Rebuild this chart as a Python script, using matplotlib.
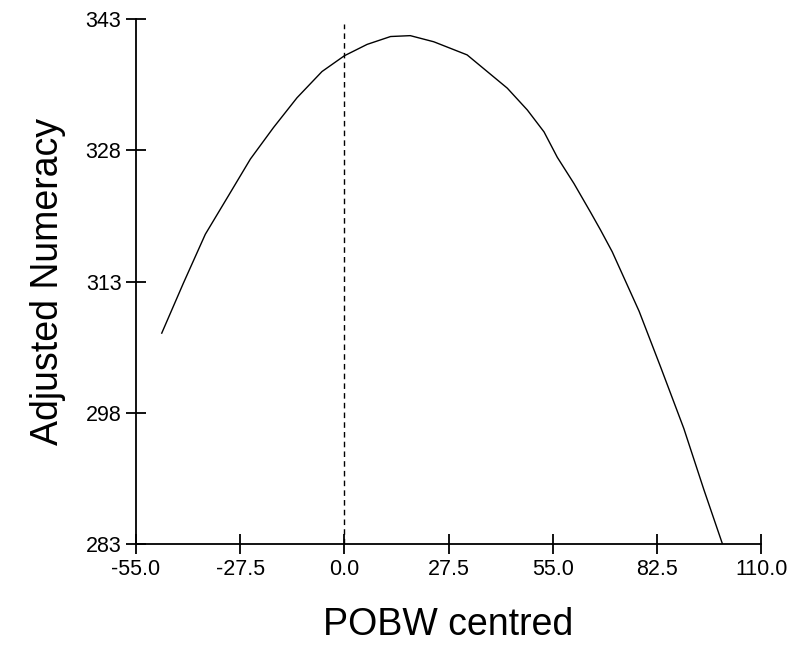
import matplotlib
matplotlib.use("Agg")
import matplotlib.pyplot as plt

# values
pobw = [-48.2, -42.5, -36.7, -30.6, -24.8, -18.7, -12.5, -5.9, 0.0, 6.0,
        12.2, 17.4, 23.6, 32.4, 37.7, 43.0, 48.3, 52.7, 56.2, 60.6,
        65.0, 67.6, 70.7, 77.8, 83.5, 89.6, 94.9, 99.8]
numeracy = [307.1, 312.8, 318.4, 322.8, 327.0, 330.6, 334.0, 337.0, 338.8, 340.1,
            341.0, 341.1, 340.4, 338.9, 337.0, 335.1, 332.6, 330.1, 327.2, 324.2,
            320.9, 318.9, 316.4, 309.6, 303.2, 296.2, 289.2, 283.0]

x_ticks = [-55.0, -27.5, 0.0, 27.5, 55.0, 82.5, 110.0]
y_ticks = [283, 298, 313, 328, 343]
ref_line_x = 0.0
ref_line_top = 342.4

plt.rcParams['font.family'] = ['Liberation Sans', 'DejaVu Sans']

fig = plt.figure(figsize=(7.92, 6.47), dpi=100)
ax = fig.add_axes([0.1717, 0.1592, 0.7893, 0.8114])

ax.plot(pobw, numeracy, color='black', linewidth=1.0)
ax.plot([ref_line_x, ref_line_x], [y_ticks[0], ref_line_top], color='black',
        linewidth=1.0, linestyle=(0, (4, 3)))

ax.set_xlim(x_ticks[0], x_ticks[-1])
ax.set_ylim(y_ticks[0], y_ticks[-1])
ax.set_xticks(x_ticks)
ax.set_xticklabels([f'{v:.1f}' for v in x_ticks])
ax.set_yticks(y_ticks)
ax.set_yticklabels([str(v) for v in y_ticks])

for side in ['top', 'right']:
    ax.spines[side].set_visible(False)
for side in ['left', 'bottom']:
    ax.spines[side].set_linewidth(1.3)

ax.tick_params(direction='inout', length=15, width=1.3, labelsize=15.5, pad=3)

ax.set_xlabel('POBW centred', fontsize=27, labelpad=20)
ax.set_ylabel('Adjusted Numeracy', fontsize=27, labelpad=14)

fig.savefig('out.png', dpi=100)
